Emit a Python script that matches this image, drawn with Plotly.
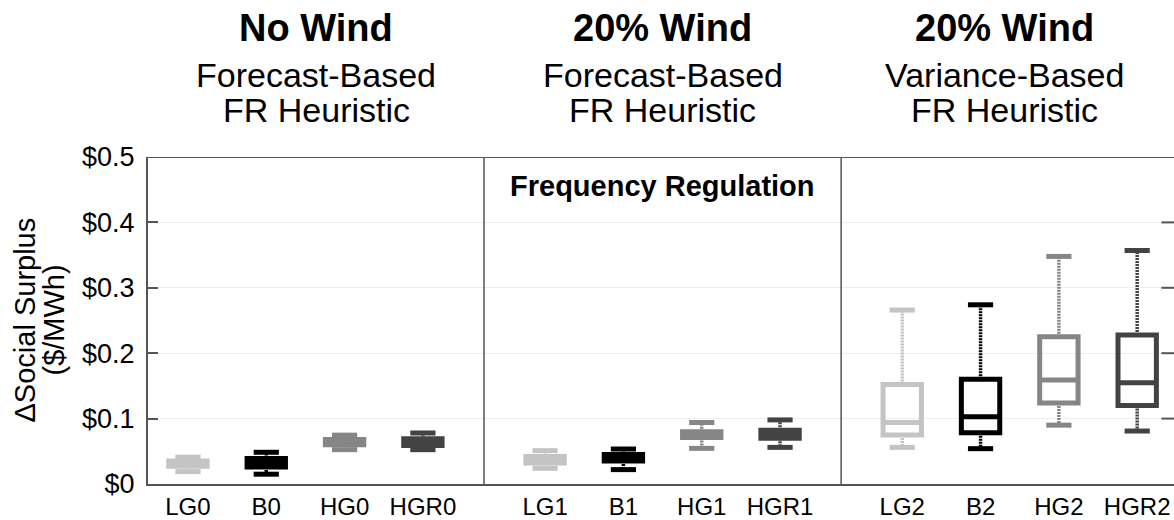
import plotly.graph_objects as go

# ---------------- data ----------------
groups = ["LG", "B", "HG", "HGR"]
tick_labels = ["LG0", "B0", "HG0", "HGR0", "LG1", "B1", "HG1", "HGR1", "LG2", "B2", "HG2", "HGR2"]

lg_upper = [0.041, 0.051, 0.266]
lg_q3 = [0.035, 0.042, 0.152]
lg_median = [0.031, 0.037, 0.094]
lg_q1 = [0.027, 0.032, 0.075]
lg_lower = [0.019, 0.024, 0.056]

b_upper = [0.0485, 0.0535, 0.274]
b_q3 = [0.039, 0.045, 0.160]
b_median = [0.032, 0.040, 0.103]
b_q1 = [0.026, 0.035, 0.0785]
b_lower = [0.015, 0.022, 0.054]

hg_upper = [0.0747, 0.094, 0.348]
hg_q3 = [0.068, 0.080, 0.225]
hg_median = [0.064, 0.075, 0.159]
hg_q1 = [0.060, 0.071, 0.124]
hg_lower = [0.0525, 0.0545, 0.090]

hgr_upper = [0.078, 0.098, 0.357]
hgr_q3 = [0.069, 0.082, 0.228]
hgr_median = [0.064, 0.076, 0.155]
hgr_q1 = [0.059, 0.070, 0.120]
hgr_lower = [0.0525, 0.056, 0.081]

panel_titles = ["No Wind", "20% Wind", "20% Wind"]
panel_sub1 = ["Forecast-Based", "Forecast-Based", "Variance-Based"]
panel_sub2 = ["FR Heuristic", "FR Heuristic", "FR Heuristic"]

y_ticks = [0, 0.1, 0.2, 0.3, 0.4, 0.5]
y_tick_text = ["$0", "$0.1", "$0.2", "$0.3", "$0.4", "$0.5"]

# ---------------- style / layout constants ----------------
PANEL_STEP = 4.56
X_RANGE = [-0.51, 12.59]
DIVIDERS = [3.78, 8.34]
PANEL_CENTERS = [1.635, 6.06, 10.43]
FONT = "Liberation Sans, Arial, sans-serif"
FRAME = "#555555"
colors = {"LG": "#c4c4c4", "B": "#000000", "HG": "#868686", "HGR": "#434343"}

stats = {
    "LG": (lg_lower, lg_q1, lg_median, lg_q3, lg_upper),
    "B": (b_lower, b_q1, b_median, b_q3, b_upper),
    "HG": (hg_lower, hg_q1, hg_median, hg_q3, hg_upper),
    "HGR": (hgr_lower, hgr_q1, hgr_median, hgr_q3, hgr_upper),
}

fig = go.Figure()

for gi, g in enumerate(groups):
    lower, q1, med, q3, upper = stats[g]
    xs = [p * PANEL_STEP + gi for p in range(3)]
    c = colors[g]
    wx, wy = [], []
    for i, x in enumerate(xs):
        wx += [x, x, None, x, x, None]
        wy += [q3[i], upper[i], None, q1[i], lower[i], None]
    fig.add_trace(go.Scatter(x=wx, y=wy, mode="lines",
                             line=dict(color=c, width=3.5, dash="2px,1px"),
                             showlegend=False, hoverinfo="skip"))
    fig.add_trace(go.Box(x=xs, q1=q1, median=med, q3=q3,
                         lowerfence=q1, upperfence=q3,
                         width=0.49, whiskerwidth=0,
                         line=dict(color=c, width=5), fillcolor="rgba(255,255,255,0)",
                         boxpoints=False, showlegend=False, name=g))
    fig.add_trace(go.Scatter(x=xs + xs, y=upper + lower, mode="markers",
                             marker=dict(symbol="line-ew", size=18,
                                         line=dict(color=c, width=5)),
                             showlegend=False, hoverinfo="skip"))

# right-edge tick marks
right_ticks = y_ticks[1:-1]
fig.add_trace(go.Scatter(x=[X_RANGE[1]] * len(right_ticks), y=right_ticks, mode="markers",
                         marker=dict(symbol="line-ew", size=18, line=dict(color=FRAME, width=2)),
                         cliponaxis=False, showlegend=False, hoverinfo="skip"))

tickvals = [p * PANEL_STEP + gi for p in range(3) for gi in range(4)]

fig.update_layout(
    width=1174, height=520,
    margin=dict(l=148, r=0, t=157, b=32),
    plot_bgcolor="white", paper_bgcolor="white",
    font=dict(family=FONT, color="black"),
    xaxis=dict(range=X_RANGE, tickvals=tickvals, ticktext=tick_labels,
               showline=True, linecolor=FRAME, linewidth=2, ticks="",
               showgrid=False, zeroline=False, tickfont=dict(size=24)),
    yaxis=dict(range=[0, 0.5], tickvals=y_ticks, ticktext=y_tick_text,
               showline=True, linecolor=FRAME, linewidth=2,
               ticks="inside", ticklen=10, tickwidth=2, tickcolor=FRAME,
               showgrid=True, gridcolor="#eeeeee", gridwidth=1,
               zeroline=False, tickfont=dict(size=27), ticklabelstandoff=6),
)

shapes = []
for d in DIVIDERS:
    shapes.append(dict(type="line", xref="x", yref="y", x0=d, x1=d, y0=0, y1=0.5,
                       line=dict(color=FRAME, width=1.5)))
shapes.append(dict(type="line", xref="paper", yref="y", x0=0, x1=1, y0=0.5, y1=0.5,
                   line=dict(color=FRAME, width=2)))
fig.update_layout(shapes=shapes)

ann = []
for i, cx in enumerate(PANEL_CENTERS):
    ann.append(dict(x=cx, xref="x", y=1.393, yref="paper", text="<b>%s</b>" % panel_titles[i],
                    showarrow=False, font=dict(size=38), xanchor="center", yanchor="middle"))
    ann.append(dict(x=cx, xref="x", y=1.250, yref="paper", text=panel_sub1[i],
                    showarrow=False, font=dict(size=34), xanchor="center", yanchor="middle"))
    ann.append(dict(x=cx, xref="x", y=1.143, yref="paper", text=panel_sub2[i],
                    showarrow=False, font=dict(size=34), xanchor="center", yanchor="middle"))
ann.append(dict(x=PANEL_CENTERS[1], xref="x", y=0.912, yref="paper",
                text="<b>Frequency Regulation</b>", showarrow=False, font=dict(size=29),
                xanchor="center", yanchor="middle"))
ann.append(dict(x=0, xref="paper", xshift=-124, y=0.5, yref="paper", text="ΔSocial Surplus",
                showarrow=False, textangle=-90, font=dict(size=29), xanchor="center", yanchor="middle"))
ann.append(dict(x=0, xref="paper", xshift=-95, y=0.5, yref="paper", text="($/MWh)",
                showarrow=False, textangle=-90, font=dict(size=29), xanchor="center", yanchor="middle"))
fig.update_layout(annotations=ann)

fig.write_html("out.html")
